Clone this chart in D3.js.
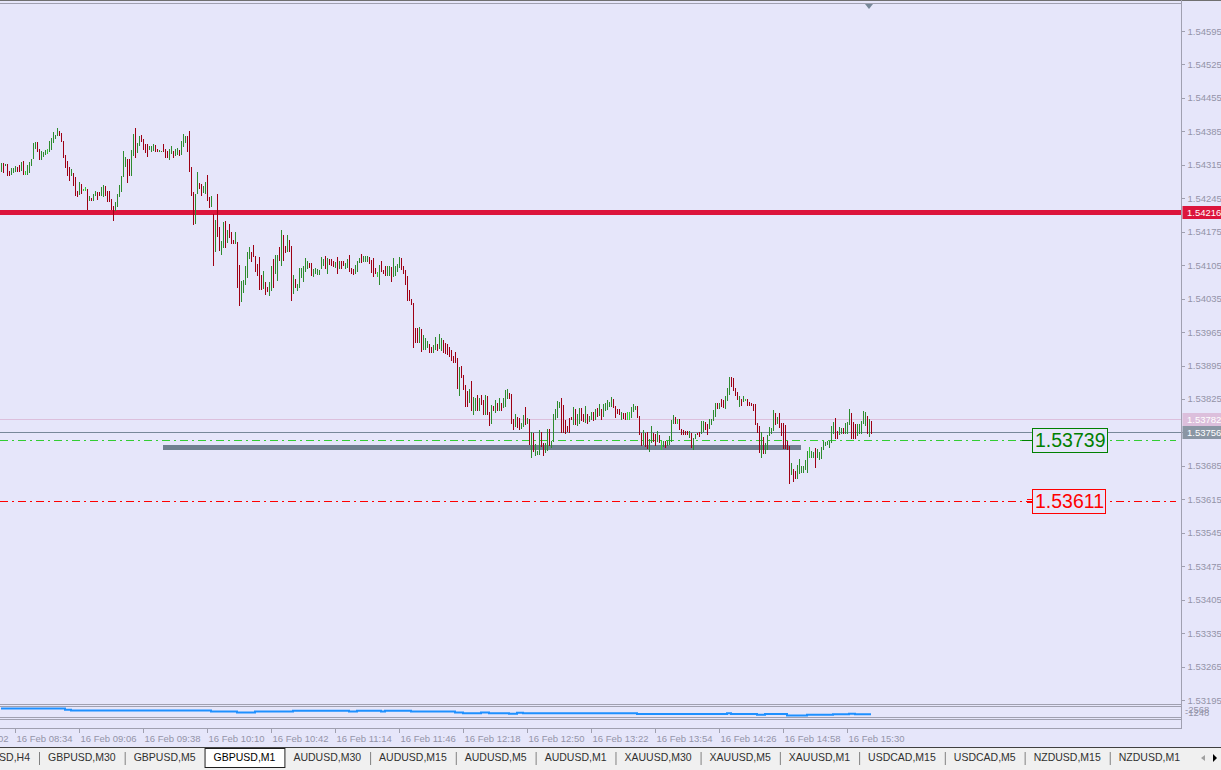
<!DOCTYPE html>
<html>
<head>
<meta charset="utf-8">
<script src="https://cdn.jsdelivr.net/npm/d3@7"></script>
<style>
  body { margin: 0; background: #e6e6fa; overflow: hidden; }
  svg { display: block; font-family: "Liberation Sans", Arial, sans-serif; }
</style>
</head>
<body>
<div id="chart"></div>
<script>
// GBPUSD M1 bars, prices in points above BASE
const BASE = 1.53, PT = 0.00001;
const highPts = [
  1319,1319,1317,1317,1303,1309,1309,1312,1311,1315, 1321,1323,1302,1315,1321,1328,1361,1362,1362,1348,
  1344,1342,1346,1348,1365,1372,1383,1378,1392,1386, 1382,1365,1336,1322,1311,1307,1298,1290,1261,1280,
  1274,1265,1269,1265,1250,1246,1253,1261,1259,1259, 1268,1273,1271,1261,1260,1244,1229,1238,1254,1272,
  1292,1344,1332,1327,1327,1346,1380,1392,1360,1375, 1378,1369,1359,1359,1354,1355,1359,1357,1348,1346,
  1344,1359,1348,1344,1349,1355,1344,1348,1351,1345, 1365,1380,1376,1376,1386,1311,1259,1254,1300,1277,
  1275,1270,1280,1294,1248,1250,1212,1200,1254,1184, 1156,1196,1198,1179,1192,1175,1157,1175,1154,1106,
  1071,1073,1104,1133,1142,1133,1148,1125,1108,1123, 1085,1093,1070,1060,1070,1104,1117,1127,1127,1142,
  1179,1169,1146,1168,1158,1146,1085,1077,1066,1100, 1098,1104,1119,1114,1110,1110,1096,1098,1097,1095,
  1122,1117,1124,1121,1117,1117,1114,1111,1123,1114, 1114,1114,1109,1117,1127,1098,1096,1105,1114,1119,
  1128,1125,1125,1125,1122,1115,1119,1098,1091,1105, 1114,1094,1103,1103,1103,1102,1121,1103,1108,1122,
  1121,1104,1095,1082,1054,1035,1025,974,973,976, 972,958,953,947,939,933,937,955,940,960,
  953,949,943,939,933,928,914,924,910,892, 893,875,855,841,846,862,829,828,834,828,
  833,823,834,832,797,812,811,822,816,827, 816,827,844,846,837,836,784,793,788,786,
  774,792,808,785,782,755,754,731,717,761, 755,732,732,763,763,736,794,805,820,818,
  827,813,780,768,785,788,808,804,793,807, 807,793,811,793,789,798,798,804,807,815,
  805,814,817,823,818,830,825,810,805,803, 797,795,795,797,797,809,815,811,811,790,
  753,761,753,756,741,768,754,751,757,749, 736,738,738,738,747,781,791,787,784,784,
  763,759,758,758,758,754,744,752,754,755, 778,779,777,772,782,782,801,817,817,816,
  825,822,832,847,870,870,868,848,839,832, 825,832,824,824,818,817,814,814,775,768,
  756,745,733,750,767,765,801,796,787,796, 775,775,770,737,726,692,678,674,687,699,
  684,685,697,717,725,717,715,722,720,714, 725,737,734,738,738,768,777,786,758,767,
  764,765,775,777,805,796,777,772,773,773, 778,800,797,789,782,779
];
const lowPts = [
  1303,1299,1314,1293,1293,1296,1300,1302,1302,1301, 1305,1295,1295,1295,1300,1314,1330,1351,1343,1328,
  1328,1334,1337,1339,1343,1349,1362,1371,1378,1378, 1365,1332,1311,1294,1284,1293,1272,1252,1250,1253,
  1255,1263,1263,1223,1242,1242,1242,1251,1244,1252, 1252,1250,1251,1240,1240,1223,1199,1220,1229,1250,
  1261,1291,1313,1278,1294,1294,1336,1331,1342,1356, 1364,1348,1342,1334,1348,1343,1347,1343,1343,1343,
  1343,1343,1332,1332,1328,1340,1332,1335,1337,1335, 1337,1354,1362,1344,1302,1252,1192,1194,1255,1266,
  1251,1259,1257,1242,1226,1228,1106,1134,1167,1136, 1129,1142,1142,1153,1163,1151,1151,1151,1060,1022,
  1029,1048,1065,1081,1119,1113,1124,1092,1085,1056, 1056,1057,1044,1050,1042,1052,1059,1088,1073,1115,
  1106,1115,1132,1134,1134,1033,1046,1059,1052,1059, 1081,1071,1092,1100,1101,1084,1083,1089,1087,1086,
  1099,1106,1100,1089,1107,1106,1103,1102,1089,1098, 1098,1105,1098,1101,1092,1089,1086,1088,1092,1112,
  1112,1113,1114,1114,1110,1090,1083,1089,1083,1065, 1092,1089,1085,1084,1084,1071,1082,1084,1092,1102,
  1096,1089,1066,1033,1032,1023,933,944,944,945, 925,930,930,933,923,923,923,930,927,932,
  928,924,922,920,914,907,903,903,848,833, 871,846,810,810,819,802,793,801,802,802,
  814,793,793,793,770,774,802,798,802,801, 802,809,811,827,828,774,763,768,767,763,
  765,768,773,774,731,703,716,708,710,710, 726,708,713,718,728,724,737,782,788,808,
  755,755,754,758,756,782,772,772,770,774, 781,779,777,775,779,784,781,782,789,791,
  784,789,801,804,810,810,809,788,795,793, 782,786,783,782,782,787,800,804,788,751,
  729,730,726,723,717,734,737,728,736,734, 721,726,724,728,731,736,775,775,775,763,
  751,751,751,752,745,724,721,743,752,747, 753,758,763,752,764,773,781,789,806,807,
  810,808,807,823,836,853,843,833,825,810, 812,820,823,813,812,813,801,773,756,715,
  703,711,712,721,749,754,760,773,775,766, 750,723,722,720,649,667,654,660,660,671,
  673,673,678,673,703,703,703,682,703,700, 701,720,729,730,725,734,754,743,744,751,
  754,754,754,754,772,744,743,743,749,754, 753,774,771,753,747,754
];
// u = bull bar, d = bear bar, n = doji
const barDir = (
  "ududduuudd" + "udnuuuuudd" + "uuunuuuuud" + "dddddudddu" + "dnnduduudd" +
  "uuddddduuu" + "uuudduuduu" + "dddduuuddu" + "uddduuduud" + "uuudddduud" +
  "duuddududd" + "uududddudd" + "uuuuuddddd" + "dudduuduud" + "uddudduduu" +
  "uuuudduuuu" + "uududddudu" + "dduuddduuu" + "duuuddddnu" + "ddduuduuuu" +
  "dddddddddu" + "duuudduudu" + "uddddddddu" + "dddduduudu" + "dduddududu" +
  "duuudddudd" + "uudududuuu" + "dduuduuuuu" + "dddddduduu" + "dduduududu" +
  "duuuuudddd" + "uddnnuuudd" + "dudduuddud" + "nuduuuudnd" + "dddduduudd" +
  "uudduuuudu" + "dduuuddddu" + "dunddddddd" + "uduuuuudud" + "dddddudduu" +
  "uuuunuuduu" + "uuuuuuuddu" + "uduuuddduu" + "uuudud"
).split("");

const firstBar = "16 Feb 08:27";
const timeLabels = ["16 Feb 08:02","16 Feb 08:34","16 Feb 09:06","16 Feb 09:38","16 Feb 10:10",
  "16 Feb 10:42","16 Feb 11:14","16 Feb 11:46","16 Feb 12:18","16 Feb 12:50","16 Feb 13:22",
  "16 Feb 13:54","16 Feb 14:26","16 Feb 14:58","16 Feb 15:30"];
const priceTicks = [1.54595,1.54525,1.54455,1.54385,1.54315,1.54245,1.54175,1.54105,1.54035,
  1.53965,1.53895,1.53825,1.53755,1.53685,1.53615,1.53545,1.53475,1.53405,1.53335,1.53265,1.53195];

const resistance = 1.54216;
const askPrice = 1.53782, bidPrice = 1.53756;
const greenLevel = 1.53739, redLevel = 1.53611;
const zoneLevel = 1.53725, zoneFrom = "16 Feb 09:48", zoneTo = "16 Feb 15:07";
const shiftMark = "16 Feb 15:41";

// lower indicator window (step values)
const indFrom = ["16 Feb 08:27","16 Feb 08:59","16 Feb 09:02","16 Feb 10:12","16 Feb 10:25","16 Feb 10:34",
  "16 Feb 10:53","16 Feb 11:21","16 Feb 11:25","16 Feb 11:37","16 Feb 11:39","16 Feb 11:52","16 Feb 12:14",
  "16 Feb 12:18","16 Feb 12:27","16 Feb 12:31","16 Feb 12:41","16 Feb 12:45","16 Feb 12:48","16 Feb 13:45",
  "16 Feb 14:30","16 Feb 14:32","16 Feb 14:45","16 Feb 14:49","16 Feb 15:00","16 Feb 15:10","16 Feb 15:23",
  "16 Feb 15:31","16 Feb 15:34"];
const indVals = [2568,2324,2177,1981,1835,1981,2128,1981,2128,1981,2128,1981,1835,1688,1835,1688,1590,
  1786,1688,1541,1688,1541,1394,1541,1248,1394,1492,1590,1492];
const indMax = 2568, indMin = 1248;

const tabs = ["GBPUSD,H4","GBPUSD,M30","GBPUSD,M5","GBPUSD,M1","AUDUSD,M30","AUDUSD,M15","AUDUSD,M5",
  "AUDUSD,M1","XAUUSD,M30","XAUUSD,M5","XAUUSD,M1","USDCAD,M15","USDCAD,M5","NZDUSD,M15","NZDUSD,M1"];
const activeTab = "GBPUSD,M1";

const W = 1221, H = 770;
const axisX = 1181.5;
const upColor = "#2e8b2e", downColor = "#9e0014", dojiColor = "#32cd32";
const axisText = "#9494a8", frameCol = "#a0a0b0";

const svg = d3.select("#chart").append("svg")
  .attr("width", W).attr("height", H)
  .style("background", "#e6e6fa");

const parseT = d3.timeParse("%d %b %H:%M");
const t0 = parseT(firstBar);
const bars = highPts.map((h, i) => ({
  t: d3.timeMinute.offset(t0, i),
  hi: BASE + h * PT,
  lo: BASE + lowPts[i] * PT,
  dir: barDir[i]
}));

const x = d3.scaleTime()
  .domain([t0, bars[bars.length - 1].t])
  .range([1, 1 + 2 * (bars.length - 1)]);
const y = d3.scaleLinear()
  .domain([1.53195, 1.54595])
  .range([700, 31]);

const lines = svg.append("g").attr("shape-rendering", "crispEdges");

// frame
lines.append("line").attr("x1", 0).attr("x2", W).attr("y1", 0.5).attr("y2", 0.5).attr("stroke", "#707070");
lines.append("line").attr("x1", 0).attr("x2", axisX).attr("y1", 3.5).attr("y2", 3.5).attr("stroke", frameCol);

// resistance line
lines.append("rect")
  .attr("x", 0).attr("width", axisX).attr("y", Math.round(y(resistance)) - 2).attr("height", 5)
  .attr("fill", "#dc143c");

// ask / bid lines
lines.append("line").attr("x1", 0).attr("x2", axisX)
  .attr("y1", Math.round(y(askPrice)) + 0.5).attr("y2", Math.round(y(askPrice)) + 0.5)
  .attr("stroke", "#dcbfdc");
lines.append("line").attr("x1", 0).attr("x2", axisX)
  .attr("y1", Math.round(y(bidPrice)) + 0.5).attr("y2", Math.round(y(bidPrice)) + 0.5)
  .attr("stroke", "#778899");

// dash-dot levels
function levelLine(p, col) {
  const yy = Math.round(y(p)) + 0.5;
  lines.append("line").attr("x1", 0).attr("x2", 1176).attr("y1", yy).attr("y2", yy)
    .attr("stroke", col).attr("stroke-width", 1).attr("stroke-dasharray", "8,4,2,4");
}
levelLine(greenLevel, "#32cd32");
levelLine(redLevel, "#ff0000");

// gray zone bar
lines.append("rect")
  .attr("x", x(parseT(zoneFrom))).attr("width", x(parseT(zoneTo)) - x(parseT(zoneFrom)))
  .attr("y", Math.round(y(zoneLevel)) - 2).attr("height", 5)
  .attr("fill", "#708090");

// price bars
svg.append("g").attr("shape-rendering", "crispEdges")
  .selectAll("rect").data(bars).join("rect")
  .attr("x", d => x(d.t))
  .attr("width", 1)
  .attr("y", d => Math.round(y(d.hi)))
  .attr("height", d => Math.max(1, Math.round(y(d.lo)) - Math.round(y(d.hi)) + 1))
  .attr("fill", d => d.dir === "u" ? upColor : d.dir === "d" ? downColor : dojiColor);

// level labels
function levelBox(p, col, txtCol, conn) {
  const yy = Math.round(y(p));
  const g = svg.append("g").attr("shape-rendering", "crispEdges");
  const t = g.append("text").attr("x", 1035).attr("y", yy).attr("dy", "0.36em")
    .attr("font-size", 19.5).attr("fill", txtCol).text(d3.format(".5f")(p));
  const bb = t.node().getBBox();
  g.insert("rect", "text")
    .attr("x", Math.round(bb.x) - 2.5).attr("y", yy - 11.5)
    .attr("width", Math.round(bb.width) + 4).attr("height", 24)
    .attr("fill", "#e6e6fa").attr("stroke", col);
  if (conn === 1) {
    g.append("line").attr("x1", 1022).attr("x2", Math.round(bb.x) - 2.5)
      .attr("y1", yy + 0.5).attr("y2", yy + 0.5).attr("stroke", col);
  } else {
    [-2, 1].forEach(o => g.append("line").attr("x1", 1027).attr("x2", Math.round(bb.x) - 2.5)
      .attr("y1", yy + o + 0.5).attr("y2", yy + o + 0.5).attr("stroke", col));
  }
}
levelBox(greenLevel, "#008000", "#008000", 1);
levelBox(redLevel, "#ff0000", "#ff0000", 2);

// shift marker
const sx = x(parseT(shiftMark));
svg.append("path").attr("d", `M${sx - 4},4 L${sx + 4},4 L${sx},9 Z`).attr("fill", "#778899");

// right price axis
lines.append("line").attr("x1", axisX).attr("x2", axisX).attr("y1", 0).attr("y2", 729).attr("stroke", frameCol);
const yAxis = d3.axisRight(y).tickValues(priceTicks).tickSize(3).tickPadding(3)
  .tickFormat(d3.format(".5f"));
const ga = svg.append("g").attr("transform", `translate(${axisX},0)`).call(yAxis);
ga.select(".domain").remove();
ga.selectAll("line").attr("stroke", frameCol).attr("shape-rendering", "crispEdges");
ga.selectAll("text").attr("font-size", 9.5).attr("fill", axisText)
  .attr("font-family", "Liberation Sans, Arial, sans-serif");

function axisTag(p, bg) {
  const yy = Math.round(y(p));
  svg.append("rect").attr("x", axisX + 1).attr("y", yy - 6).attr("width", W - axisX).attr("height", 13).attr("fill", bg);
  svg.append("text").attr("x", 1187).attr("y", yy).attr("dy", "0.38em")
    .attr("font-size", 9.5).attr("fill", "#ffffff").text(d3.format(".5f")(p));
}
axisTag(resistance, "#dc143c");
axisTag(askPrice, "#dcbfdc");
axisTag(bidPrice, "#8a96a4");

// lower panels: main bottom border, indicator window, empty window
lines.append("line").attr("x1", 0).attr("x2", axisX).attr("y1", 704.5).attr("y2", 704.5).attr("stroke", frameCol);
lines.append("rect").attr("x", -1).attr("y", 706.5).attr("width", axisX + 1).attr("height", 11).attr("fill", "none").attr("stroke", frameCol);
lines.append("rect").attr("x", -1).attr("y", 719.5).attr("width", axisX + 1).attr("height", 9).attr("fill", "none").attr("stroke", frameCol);

const yi = d3.scaleLinear().domain([indMin, indMax]).range([715.5, 708.5]);
const indPts = [];
indFrom.forEach((s, i) => {
  const a = parseT(s);
  const b = i < indFrom.length - 1 ? parseT(indFrom[i + 1]) : bars[bars.length - 1].t;
  indPts.push([x(a), yi(indVals[i])], [x(b), yi(indVals[i])]);
});
svg.append("path").attr("d", d3.line()(indPts)).attr("fill", "none")
  .attr("stroke", "#1e90ff").attr("stroke-width", 2);
svg.append("text").attr("x", 1185).attr("y", 713).attr("font-size", 9.5).attr("fill", axisText).text("-2568");
svg.append("text").attr("x", 1185).attr("y", 716).attr("font-size", 9.5).attr("fill", axisText).text("-1248");

// time axis
const tg = svg.append("g");
timeLabels.forEach(s => {
  const tx = Math.round(x(parseT(s))) + 0.5;
  tg.append("line").attr("x1", tx).attr("x2", tx).attr("y1", 729).attr("y2", 733).attr("stroke", frameCol);
  tg.append("text").attr("x", tx + 1).attr("y", 742).attr("font-size", 9.5).attr("fill", axisText).text(s);
});

// tab strip
svg.append("rect").attr("x", 0).attr("y", 747).attr("width", W).attr("height", H - 747).attr("fill", "#f0f0f0");
svg.append("line").attr("x1", 0).attr("x2", W).attr("y1", 747.5).attr("y2", 747.5).attr("stroke", "#404040");
const widths = tabs.map(s => {
  const t = svg.append("text").attr("font-size", 10.5).text(s);
  const w = t.node().getComputedTextLength(); t.remove(); return w + 18;
});
let tx = 39 - widths[0];
tabs.forEach((s, i) => {
  const w = widths[i];
  if (s === activeTab) {
    svg.append("rect").attr("x", tx + 0.5).attr("y", 748.5).attr("width", w).attr("height", 19)
      .attr("fill", "#ffffff").attr("stroke", "#202020");
  } else if (i < tabs.length - 1 && tabs[i + 1] !== activeTab) {
    svg.append("line").attr("x1", tx + w + 0.5).attr("x2", tx + w + 0.5).attr("y1", 752).attr("y2", 765).attr("stroke", "#808080");
  }
  svg.append("text").attr("x", tx + w / 2).attr("y", 761).attr("text-anchor", "middle")
    .attr("font-size", 10.5).attr("fill", s === activeTab ? "#000000" : "#303030").text(s);
  tx += w;
});
svg.append("path").attr("d", "M1205,755 L1201,758 L1205,761 Z").attr("fill", "#a0a0a0");
svg.append("path").attr("d", "M1213,754 L1217,758 L1213,762 Z").attr("fill", "#000000");
</script>
</body>
</html>
